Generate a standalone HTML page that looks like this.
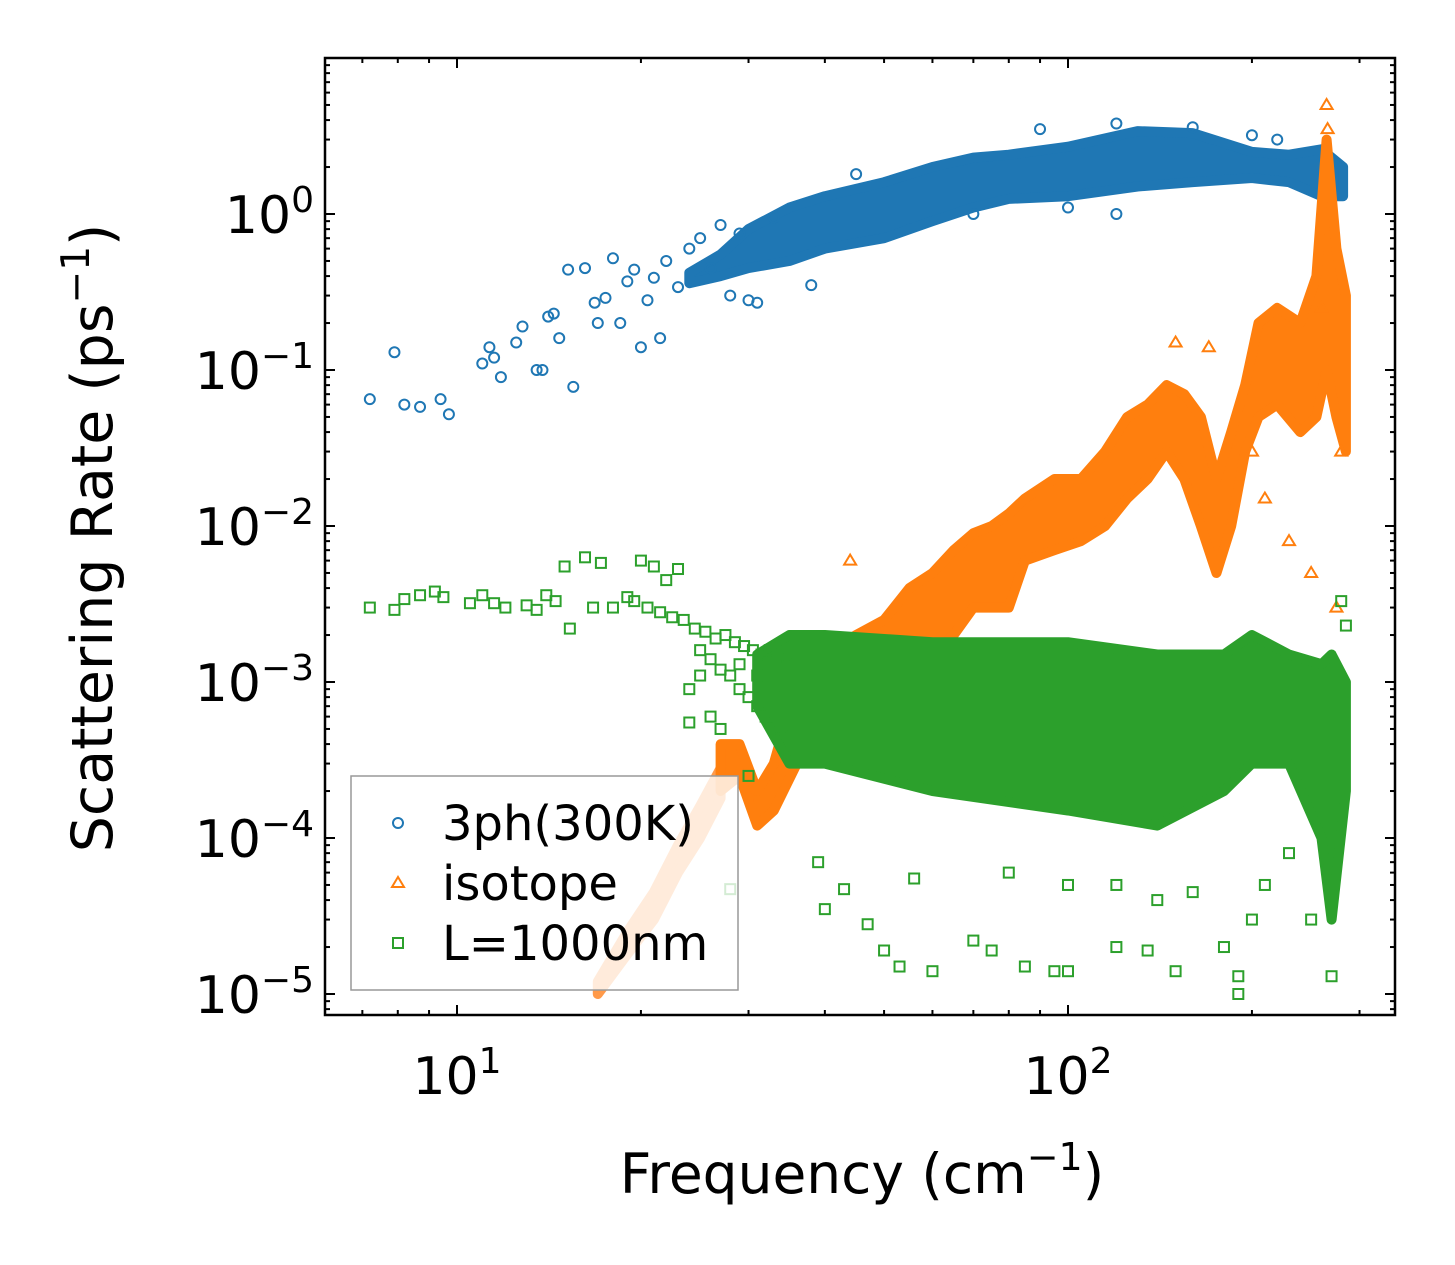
<!DOCTYPE html>
<html><head><meta charset="utf-8"><style>
body{margin:0;background:#fff;}
svg{display:block;font-family:"DejaVu Sans","Liberation Sans",sans-serif;}
</style></head><body>
<svg id="chart" width="1455" height="1265" viewBox="0 0 1455 1265" xmlns="http://www.w3.org/2000/svg">
<rect width="1455" height="1265" fill="#fff"/>
<g id="series"></g>
<g id="axes"></g>
<rect x="325" y="58" width="1070" height="957" fill="none" stroke="#000" stroke-width="2.5"/>
<text x="862" y="1193" font-size="55" text-anchor="middle">Frequency (cm<tspan dy="-23" font-size="38">−1</tspan><tspan dy="23">)</tspan></text>
<text transform="translate(112,538) rotate(-90)" font-size="57" text-anchor="middle">Scattering Rate (ps<tspan dy="-23" font-size="39">−1</tspan><tspan dy="23">)</tspan></text>
<g>
<rect x="351" y="776" width="387" height="214" fill="#fff" fill-opacity="0.8" stroke="#999" stroke-width="1.5"/>
<circle cx="398" cy="823" r="5" fill="none" stroke="#1f77b4" stroke-width="2"/>
<text x="442" y="840" font-size="48">3ph(300K)</text>
<polygon points="398,877 404,887 392,887" fill="none" stroke="#ff7f0e" stroke-width="2"/>
<text x="442" y="900" font-size="48">isotope</text>
<rect x="393" y="938" width="10" height="10" fill="none" stroke="#2ca02c" stroke-width="2"/>
<text x="442" y="960" font-size="48">L=1000nm</text>
</g>
</svg>
<script>
// axis data
const xTickExps = [1, 2];
const yTickExps = [0, -1, -2, -3, -4, -5];
// blue (3ph) sparse points and dense band
const blueX = [7.2,7.9,8.2,8.7,9.4,9.7,11,11.3,11.5,11.8,12.5,12.8,13.5,13.8,14.1,14.4,14.7,15.2,15.5,16.2,16.8,17,17.5,18,18.5,19,19.5,20,20.5,21,21.5,22,23,24,25,26,27,28,29,30,31,33,90,120,160,200,220,120,100,70,45,38];
const blueY = [0.065,0.13,0.06,0.058,0.065,0.052,0.11,0.14,0.12,0.09,0.15,0.19,0.1,0.1,0.22,0.23,0.16,0.44,0.078,0.45,0.27,0.2,0.29,0.52,0.2,0.37,0.44,0.14,0.28,0.39,0.16,0.5,0.34,0.6,0.7,0.45,0.85,0.3,0.75,0.28,0.27,0.95,3.5,3.8,3.6,3.2,3.0,1.0,1.1,1.0,1.8,0.35];
const blueBandX = [24,27,30,35,40,50,60,70,80,100,130,160,200,230,260,282];
const blueBandLo = [0.36,0.4,0.45,0.5,0.6,0.7,0.9,1.1,1.25,1.3,1.5,1.6,1.7,1.6,1.3,1.3];
const blueBandHi = [0.42,0.55,0.8,1.1,1.3,1.6,2.0,2.3,2.4,2.7,3.4,3.3,2.5,2.4,2.6,2.0];
// orange (isotope)
const isoLightX = [17,19,21,23,25,27];
const isoLightLo = [1e-5,1.8e-5,3e-5,6e-5,1e-4,1.8e-4];
const isoLightHi = [1.2e-5,2.5e-5,4.5e-5,9e-5,1.6e-4,2.8e-4];
const isoBandX = [27,29,31,33,36,40,45,50,55,60,65,70,75,80,85,95,105,115,125,135,145,155,165,175,185,195,205,220,240,255,265,275,285];
const isoBandLo = [2e-4,2.5e-4,1.2e-4,1.5e-4,3e-4,5e-4,6e-4,8e-4,1.2e-3,1.5e-3,2e-3,3e-3,3e-3,3e-3,6e-3,7e-3,8e-3,1e-2,1.5e-2,2e-2,3e-2,2e-2,1e-2,5e-3,1e-2,3e-2,5e-2,6e-2,4e-2,5e-2,1e-1,5e-2,3e-2];
const isoBandHi = [4e-4,4e-4,2e-4,3e-4,1e-3,1.5e-3,2e-3,2.5e-3,4e-3,5e-3,7e-3,9e-3,1e-2,1.2e-2,1.5e-2,2e-2,2e-2,3e-2,5e-2,6e-2,8e-2,7e-2,5e-2,2e-2,4e-2,8e-2,2e-1,2.5e-1,2e-1,4e-1,3,0.6,0.3];
const isoX = [265,266,44,170,230,250,275,280,200,210,150,260];
const isoY = [5,3.5,6e-3,0.14,8e-3,5e-3,3e-3,3e-2,3e-2,1.5e-2,0.15,0.25];
// green (boundary)
const bndBandX = [31,35,40,60,100,140,180,200,230,260,270,285];
const bndBandLo = [7e-4,3e-4,3e-4,2e-4,1.5e-4,1.2e-4,2e-4,3e-4,3e-4,1e-4,3e-5,2e-4];
const bndBandHi = [1.5e-3,2e-3,2e-3,1.8e-3,1.8e-3,1.5e-3,1.5e-3,2e-3,1.5e-3,1.3e-3,1.5e-3,1e-3];
const bndX = [7.2,7.9,8.2,8.7,9.2,9.5,10.5,11,11.5,12,13,13.5,14,14.5,15,15.3,16.2,16.7,17.2,18,19,20,21,22,23,24,24,26,28,30,39,40,43,47,50,53,56,60,70,75,85,95,100,120,135,150,160,180,190,190,200,250,270,280,285,210,230,120,100,80,140,
 19.5,20.5,21.5,22.5,23.5,24.5,25.5,26.5,27.5,28.5,29.5,30.5,31.5,32.5,33.5,34.5,25,26,27,28,29,30,31,32,33,34,29,31,33,27,25];
const bndY = [3e-3,2.9e-3,3.4e-3,3.6e-3,3.8e-3,3.5e-3,3.2e-3,3.6e-3,3.2e-3,3e-3,3.1e-3,2.9e-3,3.6e-3,3.3e-3,5.5e-3,2.2e-3,6.3e-3,3e-3,5.8e-3,3e-3,3.5e-3,6e-3,5.5e-3,4.5e-3,5.3e-3,9e-4,5.5e-4,6e-4,4.7e-5,2.5e-4,7e-5,3.5e-5,4.7e-5,2.8e-5,1.9e-5,1.5e-5,5.5e-5,1.4e-5,2.2e-5,1.9e-5,1.5e-5,1.4e-5,1.4e-5,2e-5,1.9e-5,1.4e-5,4.5e-5,2e-5,1.3e-5,1e-5,3e-5,3e-5,1.3e-5,3.3e-3,2.3e-3,5e-5,8e-5,5e-5,5e-5,6e-5,4e-5,
 3.3e-3,3e-3,2.8e-3,2.6e-3,2.5e-3,2.2e-3,2.1e-3,1.9e-3,2e-3,1.8e-3,1.7e-3,1.6e-3,1.5e-3,1.6e-3,1.4e-3,1.3e-3,1.6e-3,1.4e-3,1.2e-3,1.1e-3,9e-4,8e-4,7e-4,6e-4,5e-4,4.5e-4,1.3e-3,1.1e-3,8e-4,5e-4,1.1e-3];

const NS = 'http://www.w3.org/2000/svg';
function xs(v){ return 457 + (Math.log10(v) - 1) * 611; }
function ys(v){ return 214 - Math.log10(v) * 156; }
const series = document.getElementById('series');
const axes = document.getElementById('axes');
function mk(tag, attrs, parent){
  const e = document.createElementNS(NS, tag);
  for (const k in attrs) e.setAttribute(k, attrs[k]);
  parent.appendChild(e);
  return e;
}
function band(bx, lo, hi, color, name){
  const pts = [];
  for (let i = 0; i < bx.length; i++) pts.push(xs(bx[i]).toFixed(1) + ',' + ys(hi[i]).toFixed(1));
  for (let i = bx.length - 1; i >= 0; i--) pts.push(xs(bx[i]).toFixed(1) + ',' + ys(lo[i]).toFixed(1));
  const p = mk('polygon', {points: pts.join(' '), fill: color, stroke: color, 'stroke-width': 10, 'stroke-linejoin': 'round'}, series);
  
  
}
function marker(kind, x, y, color, name){
  const cx = xs(x), cy = ys(y);
  let e;
  if (kind === 'c') e = mk('circle', {cx: cx, cy: cy, r: 5, fill: 'none', stroke: color, 'stroke-width': 2}, series);
  else if (kind === 't') e = mk('polygon', {points: `${cx},${cy-6} ${cx+6},${cy+4} ${cx-6},${cy+4}`, fill: 'none', stroke: color, 'stroke-width': 2}, series);
  else e = mk('rect', {x: cx-5, y: cy-5, width: 10, height: 10, fill: 'none', stroke: color, 'stroke-width': 2}, series);
  
  
}
band(blueBandX, blueBandLo, blueBandHi, '#1f77b4', 'blue-dense-band');
for (let i = 0; i < blueX.length; i++) marker('c', blueX[i], blueY[i], '#1f77b4', 'point-3ph');
band(isoLightX, isoLightLo, isoLightHi, '#ff9a4a', 'isotope-light-band');
band(isoBandX, isoBandLo, isoBandHi, '#ff7f0e', 'isotope-dense-band');
for (let i = 0; i < isoX.length; i++) marker('t', isoX[i], isoY[i], '#ff7f0e', 'point-isotope');
band(bndBandX, bndBandLo, bndBandHi, '#2ca02c', 'boundary-dense-band');
for (let i = 0; i < bndX.length; i++) marker('s', bndX[i], bndY[i], '#2ca02c', 'point-boundary');

// ticks
const L = 325, R = 1395, T = 58, B = 1015;
for (let d = 0; d <= 3; d++){
  for (let m = 1; m <= 9; m++){
    const v = m * Math.pow(10, d); const x = xs(v);
    if (x < L || x > R) continue;
    const len = m === 1 ? 10 : 5;
    mk('line', {x1: x, x2: x, y1: B, y2: B - len, stroke: '#000', 'stroke-width': 2}, axes);
    mk('line', {x1: x, x2: x, y1: T, y2: T + len, stroke: '#000', 'stroke-width': 2}, axes);
  }
}
for (let d = -6; d <= 1; d++){
  for (let m = 1; m <= 9; m++){
    const v = m * Math.pow(10, d); const y = ys(v);
    if (y < T || y > B) continue;
    const len = m === 1 ? 10 : 5;
    mk('line', {x1: L, x2: L + len, y1: y, y2: y, stroke: '#000', 'stroke-width': 2}, axes);
    mk('line', {x1: R, x2: R - len, y1: y, y2: y, stroke: '#000', 'stroke-width': 2}, axes);
  }
}
xTickExps.forEach(e => {
  const t = mk('text', {x: xs(Math.pow(10, e)), y: 1094, 'font-size': 52, 'text-anchor': 'middle'}, axes);
  
  
  t.innerHTML = '10<tspan dy="-21" font-size="36">' + e + '</tspan>';
});
yTickExps.forEach(e => {
  const t = mk('text', {x: 314, y: ys(Math.pow(10, e)) + 19, 'font-size': 52, 'text-anchor': 'end'}, axes);
  
  
  t.innerHTML = '10<tspan dy="-21" font-size="36">' + (e < 0 ? '−' + (-e) : e) + '</tspan>';
});
</script>
</body></html>
